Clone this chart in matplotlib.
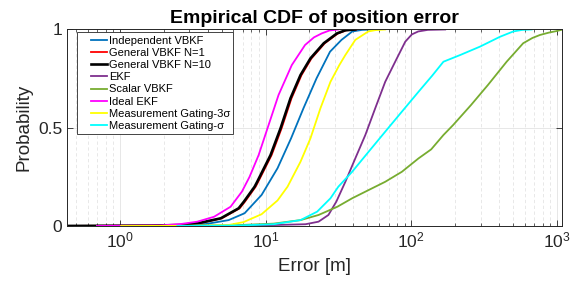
import matplotlib
matplotlib.use("Agg")
import matplotlib.pyplot as plt
from matplotlib.lines import Line2D
from matplotlib.legend_handler import HandlerLine2D
from matplotlib.ticker import LogLocator, FixedLocator, FixedFormatter, NullFormatter

plt.rcParams["font.family"] = ["Liberation Sans", "DejaVu Sans"]
plt.rcParams["mathtext.fontset"] = "custom"
plt.rcParams["mathtext.rm"] = "Liberation Sans"

# Error values [m] and cumulative probabilities
ind_x = [0.867, 2.42, 3.88, 5.58, 7.18, 9.39, 12.08, 14.96, 18.2, 22.4, 27.7, 33.2, 39.4, 46.0, 54.1]
ind_p = [0, 0.002, 0.01, 0.03, 0.065, 0.158, 0.294, 0.446, 0.599, 0.752, 0.887, 0.947, 0.99, 0.998, 1.0]

gen1_x = [0.36, 1.66, 2.66, 3.65, 5.0, 6.64, 7.22, 8.55, 8.90, 11.0, 12.88, 15.07, 17.65, 20.66, 25.5,
          31.4, 35.9, 42.0]
gen1_p = [0, 0.002, 0.005, 0.017, 0.039, 0.09, 0.124, 0.2, 0.225, 0.361, 0.497, 0.65, 0.768, 0.853, 0.93,
          0.98, 0.996, 1.0]

gen10_x = [0.35, 1.63, 2.62, 3.59, 4.92, 6.53, 7.10, 8.41, 8.76, 10.82, 12.67, 14.83, 17.37, 20.33, 25.1,
           30.9, 35.3, 41.3]
gen10_p = [0, 0.002, 0.005, 0.017, 0.039, 0.09, 0.124, 0.2, 0.225, 0.361, 0.497, 0.65, 0.768, 0.853, 0.93,
           0.98, 0.996, 1.0]

ekf_x = [1.63, 7.89, 18.8, 23.1, 27.0, 30.6, 35.3, 41.3, 48.4, 56.6, 66.3, 77.6, 91.0, 101.0, 111.7,
         130.0, 171]
ekf_p = [0, 0.002, 0.009, 0.022, 0.056, 0.124, 0.225, 0.344, 0.463, 0.599, 0.734, 0.836, 0.938, 0.975, 0.99,
         0.998, 1.0]

scalar_x = [1.63, 5.75, 11.35, 17.37, 23.1, 31.1, 39.3, 51.0, 66.3, 86.3, 112.2, 137.1, 166.4, 194.1,
            257.6, 336.6, 452, 587, 680, 765, 880, 995, 1099]
scalar_p = [0, 0.003, 0.012, 0.03, 0.056, 0.098, 0.141, 0.183, 0.225, 0.276, 0.344, 0.39, 0.463, 0.514,
            0.616, 0.718, 0.836, 0.93, 0.957, 0.972, 0.984, 0.992, 1.0]

ideal_x = [0.695, 1.91, 2.62, 3.40, 4.43, 5.75, 6.88, 7.76, 8.96, 10.49, 12.28, 15.14, 18.66, 21.5, 24.3,
           27.5, 31.6]
ideal_p = [0, 0.003, 0.01, 0.022, 0.047, 0.098, 0.175, 0.25, 0.361, 0.514, 0.667, 0.819, 0.921, 0.96, 0.98,
           0.995, 1.0]

mg3_x = [1.02, 3.06, 5.58, 7.07, 9.39, 12.08, 14.15, 17.37, 20.33, 23.8, 27.9, 32.1, 35.3, 41.3, 50.7,
         57.0, 66.3]
mg3_p = [0, 0.001, 0.005, 0.02, 0.06, 0.13, 0.2, 0.327, 0.446, 0.599, 0.734, 0.819, 0.87, 0.947, 0.99,
         0.997, 1.0]

mg1_x = [2.48, 6.74, 11.35, 17.37, 22.6, 27.9, 31.6, 39.3, 51.0, 66.3, 86.3, 112.2, 139.3, 166.4,
         216.7, 297, 407, 502, 580, 671]
mg1_p = [0, 0.003, 0.009, 0.03, 0.073, 0.141, 0.2, 0.276, 0.378, 0.48, 0.582, 0.683, 0.765, 0.836,
         0.87, 0.913, 0.963, 0.99, 0.998, 1.0]

fig = plt.figure(figsize=(5.86, 2.86), dpi=100)
ax = fig.add_axes([0.1148, 0.2098, 0.8448, 0.6871])

ax.plot(ind_x, ind_p, color="#0072BD", lw=1.3, label="Independent VBKF")
ax.plot(gen1_x, gen1_p, color="#FF0000", lw=1.3, label="General VBKF N=1")
ax.plot(gen10_x, gen10_p, color="black", lw=1.9, label="General VBKF N=10")
ax.plot(ekf_x, ekf_p, color="#7E2F8E", lw=1.3, label="EKF")
ax.plot(scalar_x, scalar_p, color="#77AC30", lw=1.3, label="Scalar VBKF")
ax.plot(ideal_x, ideal_p, color="#FF00FF", lw=1.3, label="Ideal EKF")
ax.plot(mg3_x, mg3_p, color="#FFFF00", lw=1.3, label="Measurement Gating-3σ")
ax.plot(mg1_x, mg1_p, color="#00FFFF", lw=1.3, label="Measurement Gating-σ")

ax.set_xscale("log")
ax.set_xlim(0.435, 1090)
ax.set_ylim(0, 1)
ax.xaxis.set_major_locator(LogLocator(base=10, numticks=10))
ax.xaxis.set_minor_locator(LogLocator(base=10, subs=range(2, 10), numticks=20))
ax.xaxis.set_minor_formatter(NullFormatter())
ax.yaxis.set_major_locator(FixedLocator([0, 0.5, 1]))
ax.yaxis.set_major_formatter(FixedFormatter(["0", "0.5", "1"]))

ax.grid(True, which="major", color="#262626", alpha=0.13, lw=0.6)
ax.grid(True, which="minor", axis="x", color="#262626", alpha=0.12, lw=0.6, ls=(0, (4, 3)))

ax.tick_params(which="both", direction="in", top=True, right=True, colors="#262626", labelsize=12.5)
ax.tick_params(which="major", length=4, width=0.6)
ax.tick_params(which="minor", length=2, width=0.5)
for s in ax.spines.values():
    s.set_color("#262626")
    s.set_linewidth(0.7)

ax.set_xlabel("Error [m]", fontsize=13.5, color="#262626", labelpad=5)
ax.set_ylabel("Probability", fontsize=13.5, color="#262626", labelpad=4)
ax.set_title("Empirical CDF of position error", fontsize=14, fontweight="bold", pad=5)

leg = ax.legend(loc="upper left", bbox_to_anchor=(0.02, 0.986), borderaxespad=0, fontsize=8,
                handlelength=2.4, handletextpad=0.15, labelspacing=0.2, borderpad=0.3,
                fancybox=False, framealpha=1, edgecolor="#262626",
                handler_map={Line2D: HandlerLine2D(xpad=0.95)})
leg.get_frame().set_linewidth(0.6)

fig.savefig("out.png", dpi=100)
